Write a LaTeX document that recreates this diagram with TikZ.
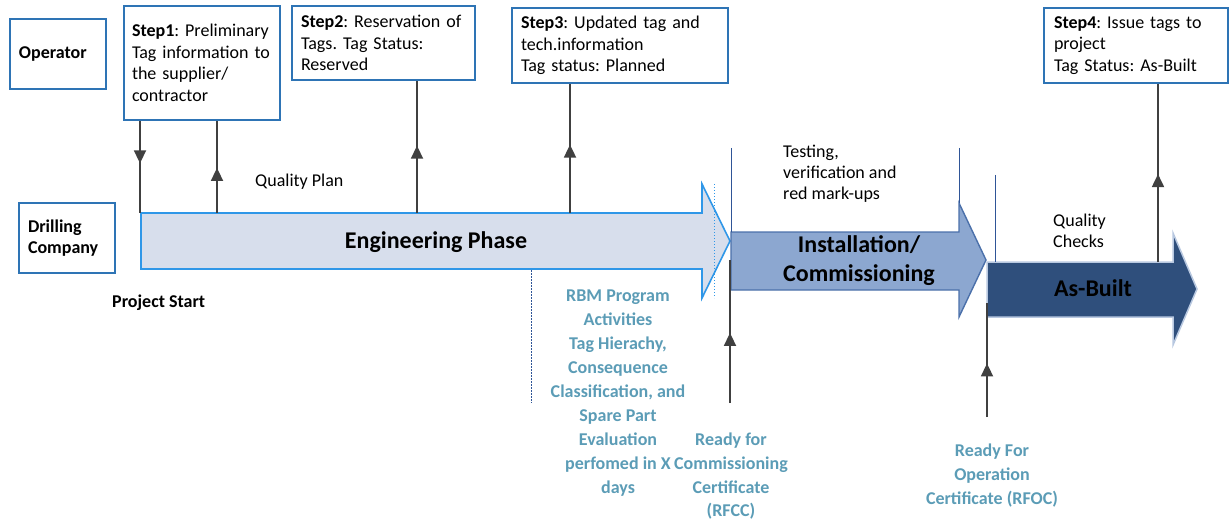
\documentclass[tikz,border=0pt]{standalone}
\usepackage{fontspec}
\setmainfont{Carlito}
\usetikzlibrary{arrows.meta,decorations.markings}
\definecolor{boxblue}{HTML}{2E74B5}
\definecolor{engfill}{HTML}{D7DEEC}
\definecolor{engline}{HTML}{2F97E8}
\definecolor{insfill}{HTML}{8CA7D0}
\definecolor{insline}{HTML}{4B70AA}
\definecolor{abfill}{HTML}{2F4F7C}
\definecolor{abline}{HTML}{B8C8E0}
\definecolor{thinblue}{HTML}{2F5597}
\definecolor{connclr}{HTML}{404040}
\definecolor{rbmteal}{HTML}{5B9CB6}
\newcommand{\ftA}{\fontsize{18}{21.5}\selectfont\frenchspacing}
\newcommand{\ftB}{\fontsize{24}{29}\selectfont}
\newcommand{\ftC}{\fontsize{18}{23.9}\selectfont}
\newcommand{\ftD}{\fontsize{18}{21}\selectfont}
\tikzset{
  tagbox/.style={draw=boxblue, line width=2pt, fill=white, align=left,
    inner ysep=0pt, font=\ftA, anchor=north west},
  conline/.style={color=connclr, line width=1.8pt},
  midarr/.style={postaction={decorate}, decoration={markings,
    mark=at position #1 with {\arrow{Triangle[width=12pt,length=13pt]}}}},
  thinline/.style={draw=thinblue, line width=0.9pt},
  plain/.style={inner sep=0pt, font=\ftA},
  phase/.style={inner sep=0pt, font=\ftB\bfseries},
  tealtxt/.style={inner sep=0pt, font=\ftC\bfseries, text=rbmteal, align=center, anchor=north},
}
\begin{document}
\begin{tikzpicture}[x=1pt, y=-1pt]
\useasboundingbox (0,0) rectangle (1232,524);

% phase arrows
\draw[engline, fill=engfill, line width=1.6pt]
  (141,213) -- (702,213) -- (702,184) -- (730,241) -- (702,298) -- (702,269) -- (141,269) -- cycle;
\draw[engline, dotted, line width=1pt] (714,184) -- (714,298);
\draw[insline, fill=insfill, line width=1.4pt]
  (731,232) -- (959,232) -- (959,203) -- (986,260) -- (959,317) -- (959,290) -- (731,290) -- cycle;
\draw[abline, fill=abfill, line width=1.5pt]
  (987,262) -- (1173,262) -- (1173,233) -- (1197,289) -- (1173,345) -- (1173,317) -- (987,317) -- cycle;

% boxes
\node[tagbox, text width=78pt, inner xsep=9pt, minimum height=70pt] (operator) at (9,18) {\textbf{Operator}};
\node[tagbox, text width=78pt, inner xsep=9pt, minimum height=70pt] (drilling) at (18,202) {\textbf{Drilling}\\\textbf{Company}};
\node[tagbox, text width=140pt, inner xsep=8pt, minimum height=114pt] (step1) at (123,5)
  {\textbf{Step1}: Preliminary\\Tag information to\\the supplier/\\contractor};
\node[tagbox, text width=165pt, inner xsep=9pt, minimum height=74pt] (step2) at (291,5)
  {\textbf{Step2}: Reservation of\\Tags. Tag Status:\\Reserved};
\node[tagbox, text width=198pt, inner xsep=9pt, minimum height=75pt] (step3) at (511,7)
  {\textbf{Step3}: Updated tag and\\tech.information\\Tag status: Planned};
\node[tagbox, text width=164pt, inner xsep=10pt, minimum height=75pt] (step4) at (1043,7)
  {\textbf{Step4}: Issue tags to\\project\\Tag Status: As-Built};

% labels
\node[plain, anchor=base west] (qplan) at (255,186) {Quality Plan};
\node[plain, anchor=base west] (pstart) at (112,307) {\textbf{Project Start}};
\node[phase, anchor=base] (eng) at (436,248) {Engineering Phase};
\node[phase, anchor=north, align=center] (inst) at (859,232.4) {\strut Installation/\\Commissioning};
\node[phase, anchor=base] (asb) at (1093,296) {As-Built};
\node[inner sep=0pt, font=\ftD, anchor=north west, align=left] (testing) at (783,142.6)
  {\strut Testing,\\verification and\\red mark-ups};
\node[inner sep=0pt, font=\ftD, anchor=north west, align=left] (qchecks) at (1053,212)
  {\strut Quality\\Checks};
\node[tealtxt] (rbm) at (618,285)
  {\strut RBM Program\\Activities\\Tag Hierachy,\\Consequence\\Classification, and\\Spare Part\\Evaluation\\perfomed in X\\days};
\node[tealtxt] (rfcc) at (731,428.3)
  {\strut Ready for\\Commissioning\\Certificate\\(RFCC)};
\node[tealtxt] (rfoc) at (992,440)
  {\strut Ready For\\Operation\\Certificate (RFOC)};

% thin separator lines
\coordinate (t1) at (731,148);
\coordinate (t1b) at (731,232);
\coordinate (t2) at (959,148);
\coordinate (t2b) at (959,203);
\coordinate (t3) at (995,175);
\coordinate (t3b) at (995,262);
\draw[thinline] (t1) -- (t1b);
\draw[thinline] (t2) -- (t2b);
\draw[thinline] (t3) -- (t3b);
\coordinate (d1) at (531,270);
\coordinate (d1b) at (531,403);
\draw[draw=thinblue, line width=1pt, dash pattern=on 2pt off 1pt] (d1) -- (d1b);

% connectors
\coordinate (e1) at (140,213);
\coordinate (e2) at (217,213);
\coordinate (e3) at (417,213);
\coordinate (e4) at (570,213);
\coordinate (e5) at (1158,262);
\coordinate (r1) at (730,403);
\coordinate (r1b) at (730,260);
\coordinate (r2) at (987,417);
\coordinate (r2b) at (987,303);
\draw[conline, midarr=0.46] (step1.south -| e1) -- (e1);
\draw[conline, midarr=0.49] (e2) -- (e2 |- step1.south);
\draw[conline, midarr=0.51] (e3) -- (e3 |- step2.south);
\draw[conline, midarr=0.53] (e4) -- (e4 |- step3.south);
\draw[conline, midarr=0.494] (e5) -- (e5 |- step4.south);
\draw[conline, midarr=0.49] (r1) -- (r1b);
\draw[conline, midarr=0.47] (r2) -- (r2b);
\end{tikzpicture}
\end{document}
